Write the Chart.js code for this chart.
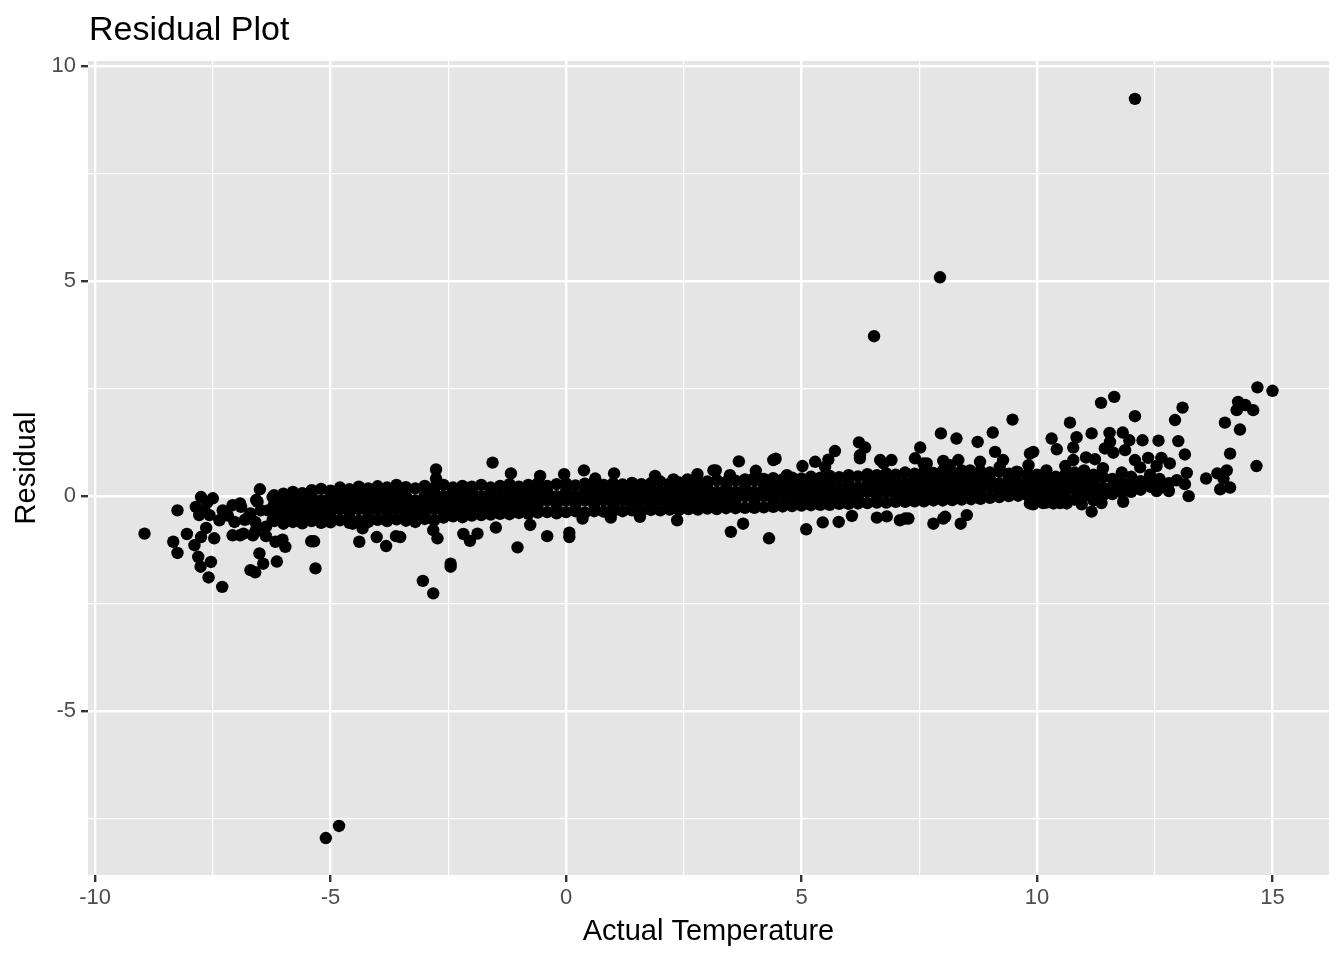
<!DOCTYPE html>
<html><head><meta charset="utf-8">
<script src="https://cdn.jsdelivr.net/npm/chart.js@4.4.1/dist/chart.umd.min.js"></script>
<style>html,body{margin:0;padding:0;background:#fff;}#wrap{width:1344px;height:960px;}</style>
</head><body><div id="wrap"><canvas id="c" width="1344" height="960"></canvas></div>
<script>
const chartTitle = 'Residual Plot';
const xTitle = 'Actual Temperature';
const yTitle = 'Residual';
const xTicks = [-10, -5, 0, 5, 10, 15];
const yTicks = [-5, 0, 5, 10];

// dense band, column x positions and the residuals stacked in each column
const westX = [-6.2,-6.0,-5.8,-5.6,-5.4,-5.2,-5.0,-4.8,-4.6,-4.4,-4.2,-4.0,-3.8,-3.6,-3.4,-3.2,-3.0,-2.8,-2.6,-2.4,-2.2];
const westY = [
 [0.02,-0.2,-0.4,-0.58],[0.06,-0.1,-0.3,-0.5,-0.64],[0.1,0.0,-0.2,-0.4,-0.6],[0.07,-0.1,-0.3,-0.5,-0.63],
 [0.14,0.0,-0.2,-0.4,-0.58],[0.17,-0.1,-0.3,-0.5,-0.62],[0.13,0.0,-0.2,-0.4,-0.61],[0.2,0.1,-0.1,-0.3,-0.56],
 [0.16,0.0,-0.2,-0.4,-0.62],[0.22,0.1,-0.1,-0.3,-0.57],[0.18,0.0,-0.2,-0.4,-0.6],[0.23,0.1,-0.1,-0.3,-0.55],
 [0.2,0.0,-0.2,-0.4,-0.58],[0.26,0.1,-0.1,-0.3,-0.54],[0.21,0.0,-0.2,-0.4,-0.57],[0.18,-0.1,-0.3,-0.5,-0.6],
 [0.24,0.0,-0.2,-0.4,-0.53],[0.2,0.1,-0.1,-0.3,-0.56],[0.26,0.0,-0.2,-0.4,-0.5],[0.2,0.1,-0.1,-0.3,-0.47],
 [0.24,0.0,-0.2,-0.4,-0.49]
];
const centralX = [-2.0,-1.8,-1.6,-1.4,-1.2,-1.0,-0.8,-0.6,-0.4,-0.2,0.0,0.2,0.4,0.6,0.8,1.0,1.2,1.4,1.6,1.8,2.0,2.2,2.4,2.6,2.8,3.0,3.2,3.4,3.6,3.8];
const centralY = [
 [0.22,0.1,-0.1,-0.3,-0.45],[0.26,0.0,-0.2,-0.44],[0.2,0.1,-0.1,-0.3,-0.43],[0.24,0.0,-0.2,-0.41],
 [0.28,0.1,-0.1,-0.3,-0.42],[0.22,0.0,-0.2,-0.39],[0.26,0.1,-0.1,-0.3,-0.41],[0.3,0.2,0.0,-0.2,-0.38],
 [0.24,0.1,-0.1,-0.37],[0.28,0.0,-0.2,-0.4],[0.3,0.1,-0.1,-0.37],[0.25,0.0,-0.2,-0.35],
 [0.29,0.1,-0.1,-0.38],[0.32,0.2,0.0,-0.2,-0.35],[0.26,0.1,-0.1,-0.36],[0.3,0.2,0.0,-0.2,-0.34],
 [0.27,0.1,-0.1,-0.35],[0.31,0.2,0.0,-0.2,-0.33],[0.28,0.1,-0.1,-0.34],[0.3,0.2,0.0,-0.2,-0.32],
 [0.34,0.1,-0.1,-0.33],[0.29,0.2,0.0,-0.2,-0.31],[0.32,0.1,-0.1,-0.32],[0.35,0.2,0.0,-0.2,-0.3],
 [0.31,0.1,-0.1,-0.31],[0.34,0.2,0.0,-0.2,-0.29],[0.37,0.1,-0.1,-0.3],[0.33,0.2,0.0,-0.2,-0.28],
 [0.36,0.1,-0.1,-0.28],[0.39,0.2,0.0,-0.27]
];
const eastX = [4.0,4.2,4.4,4.6,4.8,5.0,5.2,5.4,5.6,5.8,6.0,6.2,6.4,6.6,6.8,7.0,7.2,7.4,7.6,7.8,8.0,8.2,8.4,8.6,8.8,9.0,9.2,9.4,9.6,9.8];
const eastY = [
 [0.36,0.1,-0.1,-0.27],[0.4,0.2,0.0,-0.26],[0.42,0.3,0.1,-0.1,-0.25],[0.39,0.2,0.0,-0.24],
 [0.43,0.3,0.1,-0.1,-0.23],[0.41,0.2,0.0,-0.22],[0.45,0.3,0.1,-0.1,-0.21],[0.43,0.2,0.0,-0.2],
 [0.47,0.3,0.1,-0.1,-0.2],[0.44,0.2,0.0,-0.18],[0.49,0.3,0.1,-0.1,-0.18],[0.46,0.2,0.0,-0.17],
 [0.51,0.3,0.1,-0.16],[0.49,0.4,0.2,0.0,-0.15],[0.53,0.3,0.1,-0.15],[0.5,0.4,0.2,0.0,-0.13],
 [0.55,0.3,0.1,-0.13],[0.52,0.4,0.2,0.0,-0.12],[0.57,0.5,0.3,0.1,-0.12],[0.54,0.4,0.2,0.0,-0.1],
 [0.59,0.5,0.3,0.1,-0.1],[0.55,0.4,0.2,0.0,-0.09],[0.6,0.5,0.3,0.1,-0.08],[0.56,0.4,0.2,0.0,-0.07],
 [0.58,0.5,0.3,0.1,-0.06],[0.55,0.4,0.2,-0.04],[0.57,0.3,0.1,-0.02],[0.52,0.4,0.2,0.0],
 [0.55,0.3,0.1,0.01],[0.5,0.4,0.2,0.02]
];

// scattered points, [actual temperature, residual]
const leftTail = [
 [-8.95,-0.87],[-8.25,-0.33],[-8.34,-1.06],[-8.25,-1.32],[-8.05,-0.88],[-7.89,-1.14],[-7.75,-0.95],
 [-7.64,-0.74],[-7.47,-0.98],[-7.81,-1.41],[-7.76,-1.64],[-7.54,-1.53],[-7.59,-1.89],[-7.30,-2.11],
 [-7.75,-0.02],[-7.5,-0.05],[-7.86,-0.25],[-7.68,-0.33],[-7.57,-0.44],[-7.79,-0.44],[-7.62,-0.15],
 [-7.29,-0.33],[-7.08,-0.21],[-6.9,-0.25],[-7.36,-0.56],[-7.04,-0.6],[-7.18,-0.45],[-6.58,-0.09],
 [-6.48,-0.33],[-6.33,-0.33],[-6.19,-0.09],[-6.23,-0.56],[-6.37,-0.71],[-6.7,-0.4],[-6.82,-0.55],
 [-7.08,-0.91],[-6.92,-0.91],[-6.65,-0.91],[-6.57,-0.75],[-6.5,0.16],[-6.55,-0.13],[-6.23,-0.02],
 [-6.51,-1.33],[-6.43,-1.57],[-6.7,-1.72],[-6.6,-1.77],[-6.14,-1.52],[-6.37,-0.93],[-6.17,-1.06],
 [-5.96,-1.18],[-6.02,-1.01],[-6.85,-0.87],[-6.6,-0.83],[-6.92,-0.17],[-6.74,-0.48],[-6.6,-0.6]
];
const midLow = [
 [-5.41,-1.05],[-5.35,-1.05],[-5.32,-1.68],[-4.39,-1.06],[-4.02,-0.95],[-3.82,-1.16],[-3.61,-0.93],
 [-4.53,-0.64],[-4.32,-0.75],[-3.52,-0.95],[-2.82,-0.79],[-2.73,-0.98],[-2.18,-0.88],[-2.04,-1.04],
 [-1.88,-0.87],[-1.49,-0.73],[-1.03,-1.19],[-0.76,-0.67],[-0.40,-0.93],[0.07,-0.85],[0.07,-0.95],
 [0.35,-0.52],[0.95,-0.5],[1.57,-0.48],[2.36,-0.56],[3.5,-0.83],[3.76,-0.64],[4.31,-0.98],
 [-3.04,-1.97],[-2.82,-2.26],[-2.45,-1.57],[-2.45,-1.64]
];
const midHigh = [
 [-2.76,0.62],[-2.76,0.41],[-1.56,0.78],[-1.17,0.53],[-0.55,0.47],[-0.04,0.51],[0.38,0.6],[0.62,0.41],
 [1.02,0.53],[1.89,0.47],[2.28,0.39],[2.58,0.39],[2.79,0.51],[3.13,0.6],[3.18,0.6],[3.67,0.81],[4.03,0.59],
 [3.48,0.49],[3.98,0.41],[4.69,0.49],[5.5,0.68]
];
const eastScatter = [
 [4.4,0.84],[4.45,0.87],[5.02,0.7],[5.29,0.8],[5.57,0.85],[5.71,1.05],[6.22,1.25],[6.35,1.13],[6.24,0.88],
 [6.24,0.95],[6.67,0.84],[6.74,0.76],[6.91,0.84],[7.52,1.13],[7.41,0.88],[7.66,0.76],[7.59,0.76],[7.96,1.46],
 [8.29,1.34],[8.74,1.26],[9.06,1.48],[9.48,1.78],[8.01,0.82],[8.15,0.72],[8.33,0.84],[8.58,0.6],[8.79,0.8],
 [9.11,1.03],[9.21,0.68],[9.28,0.84],[9.57,0.57],[9.85,0.99],[9.82,0.72],
 [5.1,-0.77],[5.45,-0.61],[5.79,-0.6],[6.07,-0.46],[6.6,-0.5],[6.81,-0.47],[7.09,-0.56],[7.2,-0.52],
 [7.27,-0.52],[7.8,-0.64],[8.01,-0.52],[8.05,-0.48],[8.38,-0.64],[8.51,-0.44],[9.85,-0.17]
];
const rightBand = [
 [10.0,0.5],[10.0,0.3],[10.0,0.1],[10.0,-0.1],[10.2,0.6],[10.2,0.4],[10.2,0.2],[10.2,0.0],[10.2,-0.15],
 [10.4,0.45],[10.4,0.25],[10.4,0.05],[10.4,-0.12],[10.6,0.7],[10.6,0.5],[10.6,0.3],[10.6,0.1],[10.6,-0.05],
 [10.8,0.55],[10.8,0.35],[10.8,0.15],[10.8,-0.08],[11.0,0.6],[11.0,0.4],[11.0,0.2],[11.0,0.0],
 [11.2,0.5],[11.2,0.3],[11.2,0.1],[11.2,-0.1],[11.4,0.65],[11.4,0.45],[11.4,0.2],[11.4,0.02],
 [11.6,0.4],[11.6,0.2],[11.6,0.05],[11.8,0.55],[11.8,0.3],[11.8,0.08],[12.0,0.45],[12.0,0.25],[12.0,0.1],
 [12.2,0.35],[12.2,0.15],[12.4,0.5],[12.4,0.3],[12.6,0.4],[12.6,0.18],[12.8,0.3],[12.8,0.12]
];
const rightScatter = [
 [10.42,1.09],[9.92,1.03],[10.77,1.13],[11.44,1.11],[11.62,1.01],[11.87,1.07],[11.04,0.9],[11.23,0.86],
 [10.77,0.84],[12.08,0.84],[12.36,0.89],[12.64,0.89],[12.82,0.76],[13.14,0.97],[12.54,0.7],[12.19,0.67],
 [13.18,0.54],[13.14,0.28],[12.97,0.37],[13.22,0.0],[12.64,0.26],[12.4,0.22],[12.54,0.12],
 [10.31,1.34],[10.84,1.37],[11.16,1.46],[11.54,1.47],[11.82,1.48],[11.55,1.26],[11.96,1.3],[12.24,1.3],
 [12.58,1.29],[13.0,1.28],[12.93,1.77],[13.09,2.06],[12.08,1.86],[11.64,2.31],[11.36,2.17],[10.7,1.71],
 [11.16,-0.36],[9.92,-0.19],[11.83,-0.13],[11.37,-0.16],[10.95,-0.19],[10.49,-0.16],[10.13,-0.16],
 [10.35,-0.17],[10.63,-0.17],[10.91,-0.09],
 [13.59,0.41],[13.83,0.53],[14.03,0.6],[13.96,0.41],[13.89,0.16],[14.1,0.2],[14.1,0.99],[13.99,1.71],
 [14.31,1.55],[14.24,2.0],[14.27,2.19],[14.42,2.12],[14.59,2.0],[14.68,2.53],[15.0,2.45],[14.66,0.7]
];
const farOutliers = [[12.08,9.24],[7.94,5.09],[6.54,3.72],[-5.1,-7.95],[-4.82,-7.67]];

const points = [];
function addColumns(xs, ys) { xs.forEach((x, i) => ys[i].forEach(y => points.push({x: x, y: y}))); }
function addPairs(list) { list.forEach(p => points.push({x: p[0], y: p[1]})); }
addColumns(westX, westY); addColumns(centralX, centralY); addColumns(eastX, eastY);
[leftTail, midLow, midHigh, eastScatter, rightBand, rightScatter, farOutliers].forEach(addPairs);

const FONT = '"Liberation Sans", Arial, Helvetica, sans-serif';
const isMajor = (v, list) => list.indexOf(v) !== -1;

const panelPlugin = {
  id: 'panel',
  beforeDraw(chart) {
    const {ctx, chartArea: a} = chart;
    ctx.save();
    ctx.fillStyle = '#FFFFFF';
    ctx.fillRect(0, 0, chart.width, chart.height);
    ctx.fillStyle = '#E5E5E5';
    ctx.fillRect(a.left, a.top, a.right - a.left, a.bottom - a.top);
    ctx.restore();
  },
  afterDraw(chart) {
    const {ctx, chartArea: a} = chart;
    ctx.save();
    ctx.font = '34px ' + FONT;
    ctx.fillStyle = '#000000';
    ctx.textBaseline = 'alphabetic';
    ctx.textAlign = 'left';
    ctx.fillText(chartTitle, a.left + 1, 40);
    ctx.restore();
  }
};

function axisOpts(min, max, majors, titleText, isX) {
  return {
    type: 'linear', min: min, max: max,
    afterFit: s => { if (isX) s.height = 85; else s.width = 88; },
    border: {display: false},
    ticks: {
      stepSize: 2.5, includeBounds: false, autoSkip: false, maxRotation: 0,
      color: '#4D4D4D', font: {family: FONT, size: 22}, padding: isX ? 3 : 5,
      callback: v => isMajor(v, majors) ? String(v) : ''
    },
    grid: {
      color: '#FFFFFF',
      lineWidth: c => (c.tick && isMajor(c.tick.value, majors)) ? 2.4 : 1.2,
      tickColor: c => (c.tick && isMajor(c.tick.value, majors)) ? '#333333' : 'rgba(0,0,0,0)',
      tickWidth: 2.4, tickLength: 7, drawTicks: true
    },
    title: {
      display: true, text: titleText, color: '#000000',
      font: {family: FONT, size: 29},
      padding: isX ? {top: 0, bottom: 11} : {top: 10, bottom: 0}
    }
  };
}

new Chart(document.getElementById('c'), {
  type: 'scatter',
  data: {datasets: [{data: points, backgroundColor: '#000000', borderWidth: 0, pointRadius: 6.2, pointHoverRadius: 6.2}]},
  options: {
    responsive: false, animation: false, events: [],
    layout: {padding: {top: 61, right: 15, bottom: 0, left: 0}},
    plugins: {legend: {display: false}, tooltip: {enabled: false}, title: {display: false}},
    scales: {
      x: axisOpts(-10.15, 16.2, xTicks, xTitle, true),
      y: axisOpts(-8.81, 10.12, yTicks, yTitle, false)
    }
  },
  plugins: [panelPlugin]
});
</script></body></html>
